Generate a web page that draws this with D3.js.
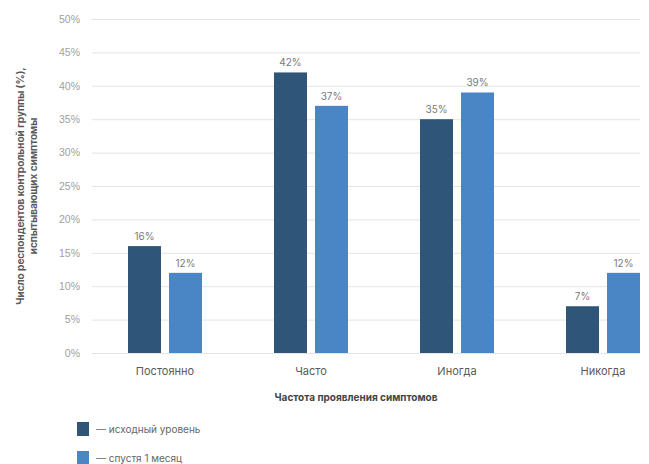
<!DOCTYPE html>
<html>
<head>
<meta charset="utf-8">
<script src="https://cdn.jsdelivr.net/npm/d3@7"></script>
<style>
  html, body { margin: 0; padding: 0; background: #fff; }
  svg { display: block; font-family: Inter, "Open Sans", sans-serif; }
</style>
</head>
<body>
<svg id="chart" width="649" height="464"></svg>
<script>
// Symptom frequency, control group
const categories = ["Постоянно", "Часто", "Иногда", "Никогда"];
const baseline = [16, 42, 35, 7];
const afterMonth = [12, 37, 39, 12];
const seriesNames = ["— исходный уровень", "— спустя 1 месяц"];
const yTicks = [0, 5, 10, 15, 20, 25, 30, 35, 40, 45, 50];
const colors = ["#2f5578", "#4a85c6"];

const svg = d3.select("#chart");

const y = d3.scaleLinear().domain([0, 50]).range([353, 19]);
const x = d3.scaleBand().domain(categories).range([92, 676]);
const barW = 33, gap = 8;

// Gridlines and y tick labels
const yAxis = d3.axisLeft(y).tickValues(yTicks).tickFormat(d => d + "%")
  .tickSize(-(640 - 92)).tickPadding(18);
const gy = svg.append("g").attr("transform", "translate(92,0)").call(yAxis);
gy.select(".domain").remove();
gy.selectAll(".tick line").attr("stroke", "#e4e4e4").attr("stroke-width", 1);
gy.selectAll(".tick text").attr("fill", "#a0a0a0").attr("font-size", 10.5).attr("x", -12);

// Bars
const series = [baseline, afterMonth];
series.forEach((vals, si) => {
  const g = svg.append("g");
  const xOff = c => x(c) + x.bandwidth() / 2 + (si === 0 ? -(barW + gap / 2) : gap / 2);
  g.selectAll("rect").data(categories).join("rect")
    .attr("x", c => xOff(c))
    .attr("y", (c, i) => y(vals[i]))
    .attr("width", barW)
    .attr("height", (c, i) => y(0) - y(vals[i]))
    .attr("fill", colors[si]);
  g.selectAll("text").data(categories).join("text")
    .attr("x", c => xOff(c) + barW / 2)
    .attr("y", (c, i) => y(vals[i]) - 6)
    .attr("text-anchor", "middle")
    .attr("font-size", 10)
    .attr("fill", "#7a7a7a")
    .text((c, i) => vals[i] + "%");
});

// Category labels
svg.append("g").selectAll("text").data(categories).join("text")
  .attr("x", c => x(c) + x.bandwidth() / 2)
  .attr("y", 375)
  .attr("text-anchor", "middle")
  .attr("font-size", 11)
  .attr("fill", "#5a5a5a")
  .text(d => d);

// Axis titles
svg.append("text")
  .attr("x", 356).attr("y", 401)
  .attr("text-anchor", "middle")
  .attr("font-size", 10)
  .attr("font-weight", 700)
  .attr("fill", "#444")
  .text("Частота проявления симптомов");

const yt = svg.append("text")
  .attr("transform", "translate(24,186) rotate(-90)")
  .attr("text-anchor", "middle")
  .attr("font-size", 10)
  .attr("font-weight", 700)
  .attr("fill", "#5a5a5a");
yt.append("tspan").attr("x", 0).attr("dy", 0).text("Число респондентов контрольной группы (%),");
yt.append("tspan").attr("x", 0).attr("dy", 13).text("испытывающих симптомы");

// Legend
const lg = svg.append("g").selectAll("g").data(seriesNames).join("g")
  .attr("transform", (d, i) => `translate(77,${422 + i * 29})`);
lg.append("rect").attr("width", 12).attr("height", 14).attr("fill", (d, i) => colors[i]);
lg.append("text").attr("x", 19).attr("y", 11)
  .attr("font-size", 10).attr("fill", "#666").text(d => d);
</script>
</body>
</html>
